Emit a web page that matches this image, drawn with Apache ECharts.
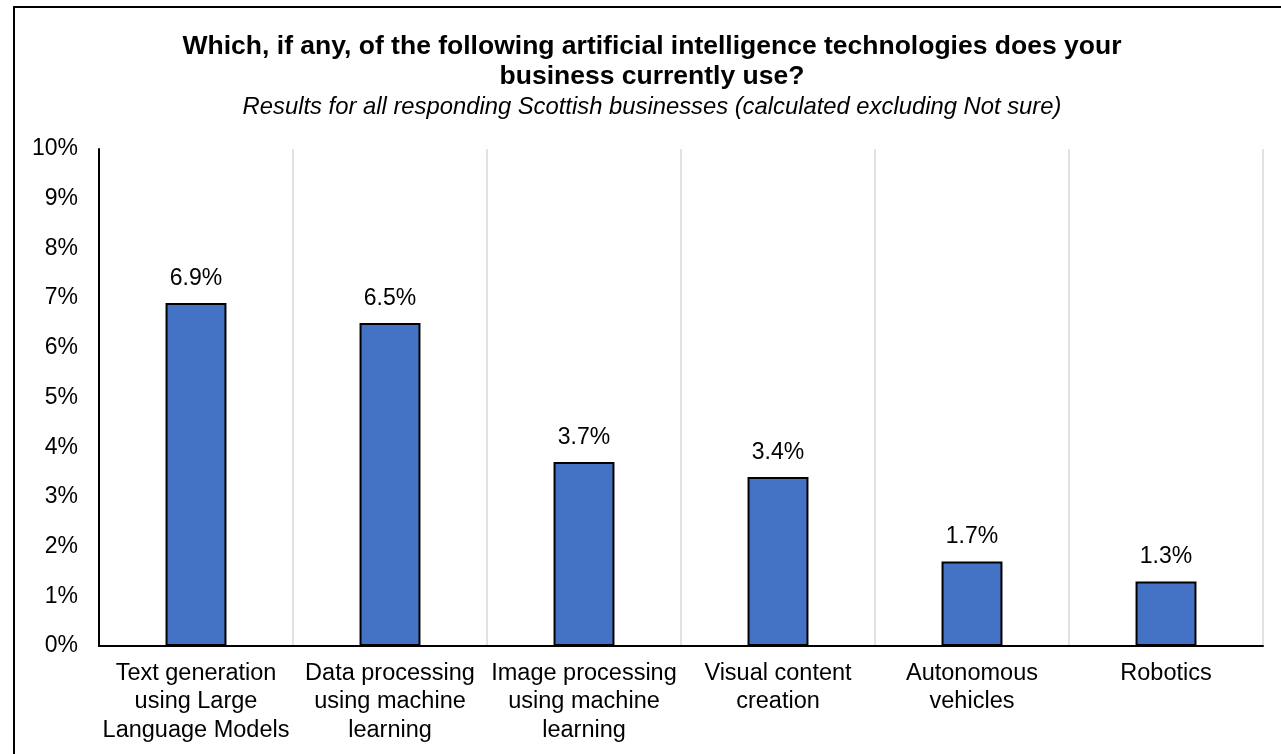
<!DOCTYPE html>
<html>
<head>
<meta charset="utf-8">
<script src="https://cdn.jsdelivr.net/npm/echarts@6/dist/echarts.min.js"></script>
<style>
  html, body { margin: 0; padding: 0; background: #fff; }
  #chart { width: 1281px; height: 754px; }
</style>
</head>
<body>
<div id="chart"></div>
<script>
// AI technologies currently used by Scottish businesses (% of respondents)
const categories = [
  'Text generation\nusing Large\nLanguage Models',
  'Data processing\nusing machine\nlearning',
  'Image processing\nusing machine\nlearning',
  'Visual content\ncreation',
  'Autonomous\nvehicles',
  'Robotics'
];
const values = [6.9, 6.5, 3.7, 3.4, 1.7, 1.3];
const yTicks = [0, 1, 2, 3, 4, 5, 6, 7, 8, 9, 10];

const titleText = 'Which, if any, of the following artificial intelligence technologies does your\nbusiness currently use?';
const subtitleText = 'Results for all responding Scottish businesses (calculated excluding Not sure)';

const FONT = '"Liberation Sans", Arial, sans-serif';

const chart = echarts.init(document.getElementById('chart'), null, { renderer: 'canvas' });
chart.setOption({
  backgroundColor: '#ffffff',
  animation: false,
  textStyle: { fontFamily: FONT },
  graphic: [{
    // chart frame (runs past the right and bottom edges of the canvas)
    type: 'rect',
    shape: { x: 14, y: 7, width: 1300, height: 800 },
    style: { fill: 'none', stroke: '#000', lineWidth: 2 },
    silent: true
  }],
  title: {
    text: titleText,
    subtext: subtitleText,
    left: 647,
    textAlign: 'center',
    top: 27,
    itemGap: 2,
    textStyle: { fontFamily: FONT, fontSize: 26.5, fontWeight: 'bold', color: '#000', lineHeight: 30 },
    subtextStyle: { fontFamily: FONT, fontSize: 23.8, fontStyle: 'italic', color: '#000', lineHeight: 26 }
  },
  grid: { left: 99, right: 18, top: 149, bottom: 108, containLabel: false },
  xAxis: {
    type: 'category',
    data: categories,
    boundaryGap: true,
    axisLine: { show: true, lineStyle: { color: '#000', width: 2 } },
    axisTick: { show: false },
    splitLine: { show: true, interval: 0, lineStyle: { color: '#d9d9d9', width: 1.5 } },
    axisLabel: { interval: 0, color: '#000', fontSize: 23.5, lineHeight: 28.5, margin: 13, fontFamily: FONT }
  },
  yAxis: {
    type: 'value',
    min: 0,
    max: 10,
    interval: 1,
    axisLine: { show: true, lineStyle: { color: '#000', width: 2 } },
    axisTick: { show: false },
    splitLine: { show: false },
    axisLabel: {
      color: '#000', fontSize: 23, margin: 21, fontFamily: FONT,
      formatter: v => (yTicks.includes(v) ? v + '%' : '')
    }
  },
  series: [{
    type: 'bar',
    data: values,
    barWidth: '31.4%',
    itemStyle: { color: '#4472C4', borderColor: '#000', borderWidth: 2 },
    label: {
      show: true,
      position: 'top',
      distance: 13,
      color: '#000',
      fontSize: 23,
      fontFamily: FONT,
      formatter: p => p.value.toFixed(1) + '%'
    }
  }]
});
</script>
</body>
</html>
